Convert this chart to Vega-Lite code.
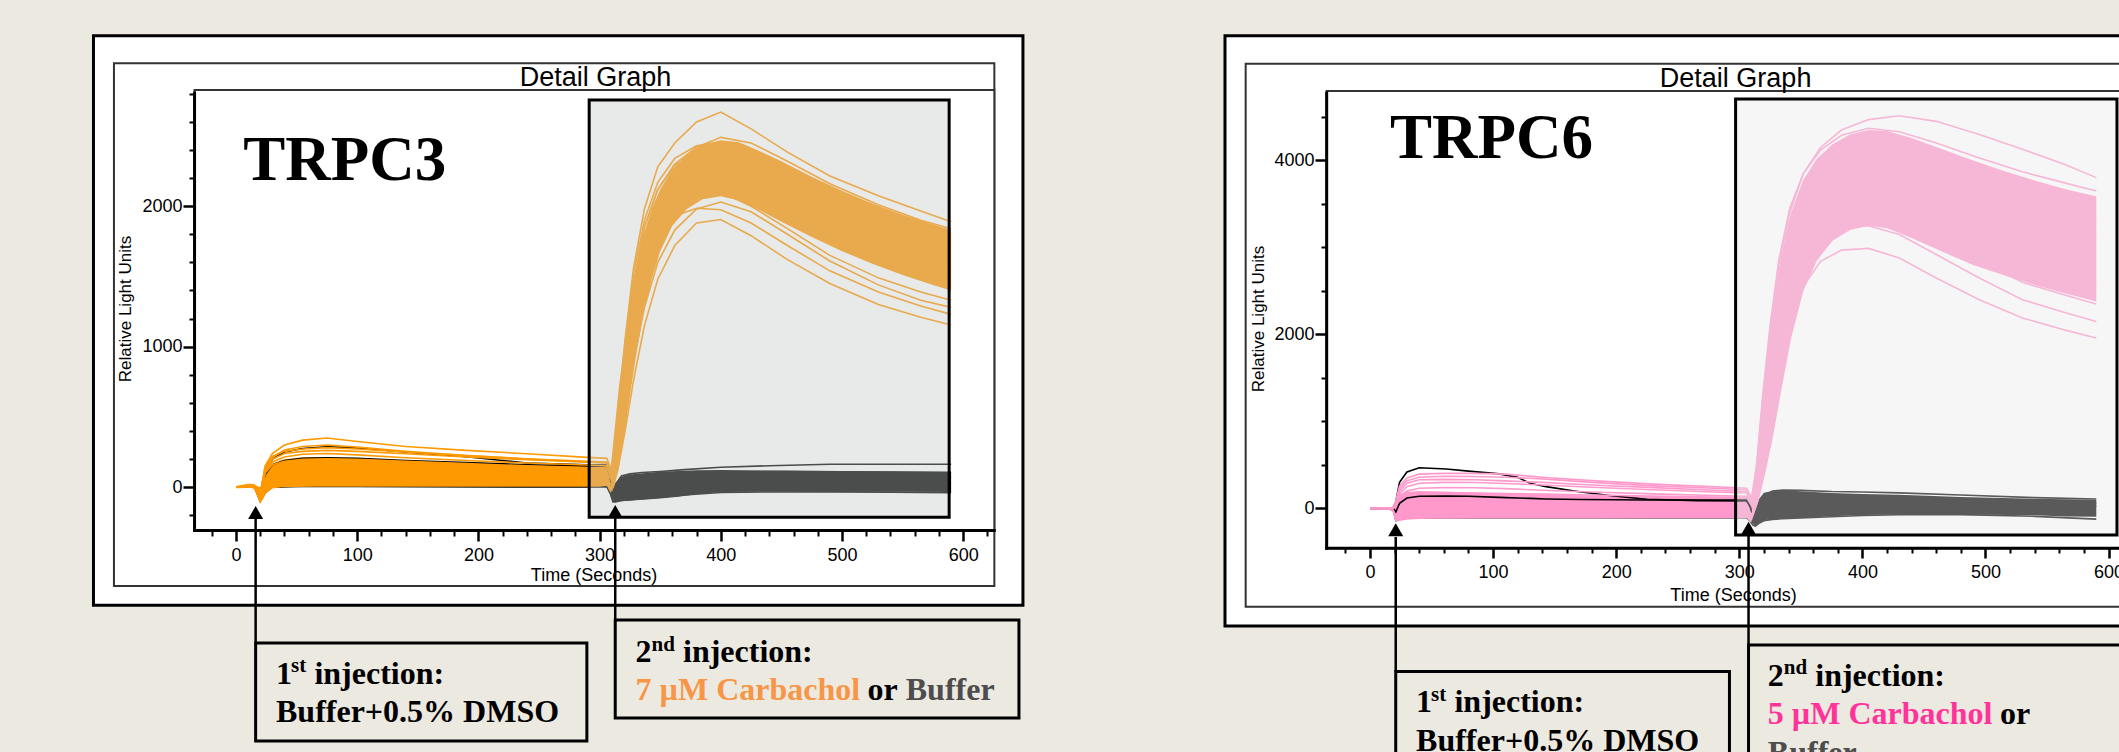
{
"$schema":"https://vega.github.io/schema/vega-lite/v6.json",
"width":2119,"height":752,
"autosize":{"type":"none"},
"padding":0,
"background":"#ECE9E1",
"config":{"view":{"stroke":null},"axis":{"grid":false,"format":"d"}},
"datasets":{
"aR":[
{"id":"outer","t1":-117.6,"t2":649.3,"v1":-840.6,"v2":3213.5},
{"id":"frame","t1":-100.7,"t2":625.7,"v1":-703.9,"v2":3017},
{"id":"frame","t1":-34.2,"t2":625.7,"v1":-308.2,"v2":2827},
{"id":"hl","t1":291.4,"t2":588.4,"v1":-214.2,"v2":2755.9},
{"id":"box","t1":16.2,"t2":289.5,"v1":-1806.4,"v2":-1108.9},
{"id":"box","t1":312.9,"t2":646.0,"v1":-1642.7,"v2":-945.2}
],
"aAx":[{"t1":-34.2,"t2":625.7,"v":-308.2}],
"aAy":[{"t":-34.2,"v1":-308.2,"v2":2805}],
"aArr":[{"t":16.2,"vc":-180.1,"vt":-226.3,"vb":-1108.9},{"t":312.9,"vc":-173,"vt":-219.2,"vb":-945.2}],
"aT":[
{"k":"big","t":6.0,"v":2186.5,"s":"TRPC3"},
{"k":"dg","t":296.6,"v":2855.5,"s":"Detail Graph"},
{"k":"yt","t":-86.6,"v":1268.3,"s":"Relative Light Units"},
{"k":"xt","t":295.4,"v":-667.6,"s":"Time (Seconds)"},
{"k":"bx","t":33.0,"v":-1397.2,"s":"1"},
{"k":"sup","t":45.4,"v":-1315.3,"s":"st"},
{"k":"bx","t":64.7,"v":-1397.2,"s":"injection:"},
{"k":"bx","t":33.0,"v":-1669.8,"s":"Buffer+0.5% DMSO"},
{"k":"bx","t":329.7,"v":-1244.1,"s":"2"},
{"k":"sup","t":342.9,"v":-1162.3,"s":"nd"},
{"k":"bx","t":368.8,"v":-1244.1,"s":"injection:"},
{"k":"cc","t":329.7,"v":-1514.6,"s":"7 µM Carbachol"},
{"k":"bx","t":521.1,"v":-1514.6,"s":"or"},
{"k":"cg","t":552.6,"v":-1514.6,"s":"Buffer"}
],
"aKA":[
{"t":308,"lo":-20,"hi":120},{"t":311,"lo":-105,"hi":-10},{"t":313,"lo":-110,"hi":30},{"t":318,"lo":-100,"hi":75},{"t":325,"lo":-95,"hi":90},{"t":336,"lo":-90,"hi":100},{"t":350,"lo":-80,"hi":110},{"t":365,"lo":-68,"hi":116},{"t":380,"lo":-50,"hi":120},{"t":400,"lo":-34,"hi":122},{"t":450,"lo":-32,"hi":118},{"t":500,"lo":-32,"hi":115},{"t":550,"lo":-32,"hi":112},{"t":590,"lo":-34,"hi":110}
],
"aOA":[
{"t":0,"lo":-8,"hi":8},{"t":10,"lo":-5,"hi":25},{"t":14,"lo":-8,"hi":22},{"t":17,"lo":-40,"hi":10},{"t":20,"lo":-100,"hi":0},{"t":22,"lo":-90,"hi":40},{"t":25,"lo":-40,"hi":110},{"t":30,"lo":-10,"hi":165},{"t":38,"lo":0,"hi":195},{"t":50,"lo":2,"hi":210},{"t":65,"lo":4,"hi":215},{"t":80,"lo":4,"hi":212},{"t":100,"lo":4,"hi":205},{"t":130,"lo":4,"hi":195},{"t":160,"lo":4,"hi":185},{"t":200,"lo":4,"hi":172},{"t":240,"lo":4,"hi":160},{"t":280,"lo":4,"hi":150},{"t":300,"lo":4,"hi":145},{"t":306,"lo":10,"hi":150},{"t":309,"lo":-40,"hi":130},{"t":312,"lo":0,"hi":380},{"t":316,"lo":150,"hi":720},{"t":320,"lo":350,"hi":980},{"t":325,"lo":650,"hi":1280},{"t":330,"lo":930,"hi":1530},{"t":336,"lo":1230,"hi":1780},{"t":343,"lo":1480,"hi":1980},{"t":350,"lo":1680,"hi":2120},{"t":360,"lo":1860,"hi":2260},{"t":372,"lo":1980,"hi":2370},{"t":385,"lo":2050,"hi":2440},{"t":400,"lo":2070,"hi":2470},{"t":415,"lo":2040,"hi":2455},{"t":430,"lo":1980,"hi":2400},{"t":450,"lo":1890,"hi":2320},{"t":475,"lo":1780,"hi":2210},{"t":500,"lo":1680,"hi":2110},{"t":525,"lo":1590,"hi":2020},{"t":550,"lo":1510,"hi":1940},{"t":575,"lo":1440,"hi":1870},{"t":590,"lo":1400,"hi":1830}
],
"aO":[
{"s":"O1","t":0,"v":0},{"s":"O1","t":15,"v":15},{"s":"O1","t":20,"v":-60},{"s":"O1","t":24,"v":150},{"s":"O1","t":30,"v":240},{"s":"O1","t":40,"v":300},{"s":"O1","t":55,"v":335},{"s":"O1","t":75,"v":350},{"s":"O1","t":100,"v":325},{"s":"O1","t":140,"v":290},{"s":"O1","t":190,"v":262},{"s":"O1","t":240,"v":238},{"s":"O1","t":290,"v":212},{"s":"O1","t":306,"v":205},{"s":"O1","t":310,"v":120},{"s":"O1","t":315,"v":520},{"s":"O1","t":321,"v":1050},{"s":"O1","t":328,"v":1560},{"s":"O1","t":337,"v":1980},{"s":"O1","t":348,"v":2280},{"s":"O1","t":362,"v":2450},{"s":"O1","t":380,"v":2600},{"s":"O1","t":400,"v":2670},{"s":"O1","t":425,"v":2550},{"s":"O1","t":455,"v":2385},{"s":"O1","t":490,"v":2215},{"s":"O1","t":530,"v":2075},{"s":"O1","t":565,"v":1965},{"s":"O1","t":590,"v":1890},
{"s":"O2","t":0,"v":0},{"s":"O2","t":15,"v":12},{"s":"O2","t":20,"v":-50},{"s":"O2","t":24,"v":130},{"s":"O2","t":30,"v":215},{"s":"O2","t":40,"v":265},{"s":"O2","t":55,"v":290},{"s":"O2","t":75,"v":300},{"s":"O2","t":100,"v":285},{"s":"O2","t":140,"v":255},{"s":"O2","t":190,"v":225},{"s":"O2","t":240,"v":200},{"s":"O2","t":290,"v":178},{"s":"O2","t":306,"v":172},{"s":"O2","t":310,"v":90},{"s":"O2","t":315,"v":480},{"s":"O2","t":321,"v":980},{"s":"O2","t":328,"v":1450},{"s":"O2","t":337,"v":1850},{"s":"O2","t":348,"v":2120},{"s":"O2","t":362,"v":2300},{"s":"O2","t":380,"v":2420},{"s":"O2","t":400,"v":2490},{"s":"O2","t":425,"v":2450},{"s":"O2","t":455,"v":2320},{"s":"O2","t":490,"v":2160},{"s":"O2","t":530,"v":2010},{"s":"O2","t":565,"v":1900},{"s":"O2","t":590,"v":1840},
{"s":"O3","t":0,"v":0},{"s":"O3","t":15,"v":10},{"s":"O3","t":20,"v":-105},{"s":"O3","t":24,"v":-40},{"s":"O3","t":30,"v":10},{"s":"O3","t":40,"v":25},{"s":"O3","t":55,"v":30},{"s":"O3","t":75,"v":30},{"s":"O3","t":100,"v":28},{"s":"O3","t":140,"v":25},{"s":"O3","t":190,"v":22},{"s":"O3","t":240,"v":20},{"s":"O3","t":290,"v":18},{"s":"O3","t":306,"v":20},{"s":"O3","t":310,"v":-20},{"s":"O3","t":315,"v":120},{"s":"O3","t":321,"v":400},{"s":"O3","t":328,"v":760},{"s":"O3","t":337,"v":1150},{"s":"O3","t":348,"v":1480},{"s":"O3","t":362,"v":1720},{"s":"O3","t":380,"v":1880},{"s":"O3","t":400,"v":1905},{"s":"O3","t":425,"v":1790},{"s":"O3","t":455,"v":1620},{"s":"O3","t":490,"v":1450},{"s":"O3","t":530,"v":1300},{"s":"O3","t":565,"v":1210},{"s":"O3","t":590,"v":1155},
{"s":"O4","t":0,"v":0},{"s":"O4","t":15,"v":15},{"s":"O4","t":20,"v":-70},{"s":"O4","t":24,"v":110},{"s":"O4","t":30,"v":180},{"s":"O4","t":40,"v":215},{"s":"O4","t":55,"v":235},{"s":"O4","t":75,"v":240},{"s":"O4","t":100,"v":230},{"s":"O4","t":140,"v":210},{"s":"O4","t":190,"v":190},{"s":"O4","t":240,"v":172},{"s":"O4","t":290,"v":158},{"s":"O4","t":306,"v":152},{"s":"O4","t":310,"v":70},{"s":"O4","t":315,"v":350},{"s":"O4","t":321,"v":800},{"s":"O4","t":328,"v":1250},{"s":"O4","t":337,"v":1600},{"s":"O4","t":348,"v":1820},{"s":"O4","t":362,"v":1930},{"s":"O4","t":380,"v":1985},{"s":"O4","t":400,"v":1975},{"s":"O4","t":425,"v":1880},{"s":"O4","t":455,"v":1720},{"s":"O4","t":490,"v":1540},{"s":"O4","t":530,"v":1390},{"s":"O4","t":565,"v":1290},{"s":"O4","t":590,"v":1230},
{"s":"O5","t":0,"v":0},{"s":"O5","t":15,"v":12},{"s":"O5","t":20,"v":-40},{"s":"O5","t":24,"v":140},{"s":"O5","t":30,"v":220},{"s":"O5","t":40,"v":255},{"s":"O5","t":55,"v":272},{"s":"O5","t":75,"v":282},{"s":"O5","t":100,"v":272},{"s":"O5","t":140,"v":250},{"s":"O5","t":190,"v":225},{"s":"O5","t":240,"v":202},{"s":"O5","t":290,"v":185},{"s":"O5","t":306,"v":180},{"s":"O5","t":310,"v":100},{"s":"O5","t":315,"v":420},{"s":"O5","t":321,"v":900},{"s":"O5","t":328,"v":1380},{"s":"O5","t":337,"v":1740},{"s":"O5","t":348,"v":1960},{"s":"O5","t":362,"v":2070},{"s":"O5","t":380,"v":2120},{"s":"O5","t":400,"v":2100},{"s":"O5","t":425,"v":2000},{"s":"O5","t":455,"v":1840},{"s":"O5","t":490,"v":1650},{"s":"O5","t":530,"v":1490},{"s":"O5","t":565,"v":1390},{"s":"O5","t":590,"v":1330},
{"s":"O6","t":0,"v":0},{"s":"O6","t":15,"v":10},{"s":"O6","t":20,"v":-55},{"s":"O6","t":24,"v":120},{"s":"O6","t":30,"v":200},{"s":"O6","t":40,"v":240},{"s":"O6","t":55,"v":255},{"s":"O6","t":75,"v":262},{"s":"O6","t":100,"v":255},{"s":"O6","t":140,"v":238},{"s":"O6","t":190,"v":215},{"s":"O6","t":240,"v":195},{"s":"O6","t":290,"v":180},{"s":"O6","t":306,"v":175},{"s":"O6","t":310,"v":90},{"s":"O6","t":315,"v":450},{"s":"O6","t":321,"v":950},{"s":"O6","t":328,"v":1420},{"s":"O6","t":337,"v":1800},{"s":"O6","t":348,"v":2060},{"s":"O6","t":362,"v":2220},{"s":"O6","t":380,"v":2290},{"s":"O6","t":400,"v":2300},{"s":"O6","t":425,"v":2220},{"s":"O6","t":455,"v":2060},{"s":"O6","t":490,"v":1880},{"s":"O6","t":530,"v":1730},{"s":"O6","t":565,"v":1620},{"s":"O6","t":590,"v":1560},
{"s":"O7","t":0,"v":0},{"s":"O7","t":15,"v":10},{"s":"O7","t":20,"v":-80},{"s":"O7","t":24,"v":60},{"s":"O7","t":30,"v":110},{"s":"O7","t":40,"v":135},{"s":"O7","t":55,"v":148},{"s":"O7","t":75,"v":152},{"s":"O7","t":100,"v":148},{"s":"O7","t":140,"v":140},{"s":"O7","t":190,"v":128},{"s":"O7","t":240,"v":118},{"s":"O7","t":290,"v":110},{"s":"O7","t":306,"v":108},{"s":"O7","t":310,"v":40},{"s":"O7","t":315,"v":400},{"s":"O7","t":321,"v":930},{"s":"O7","t":328,"v":1450},{"s":"O7","t":337,"v":1850},{"s":"O7","t":348,"v":2120},{"s":"O7","t":362,"v":2290},{"s":"O7","t":380,"v":2380},{"s":"O7","t":400,"v":2400},{"s":"O7","t":425,"v":2340},{"s":"O7","t":455,"v":2210},{"s":"O7","t":490,"v":2040},{"s":"O7","t":530,"v":1880},{"s":"O7","t":565,"v":1760},{"s":"O7","t":590,"v":1700},
{"s":"O8","t":0,"v":0},{"s":"O8","t":15,"v":8},{"s":"O8","t":20,"v":-90},{"s":"O8","t":24,"v":20},{"s":"O8","t":30,"v":60},{"s":"O8","t":40,"v":80},{"s":"O8","t":55,"v":88},{"s":"O8","t":75,"v":92},{"s":"O8","t":100,"v":90},{"s":"O8","t":140,"v":85},{"s":"O8","t":190,"v":80},{"s":"O8","t":240,"v":75},{"s":"O8","t":290,"v":70},{"s":"O8","t":306,"v":70},{"s":"O8","t":310,"v":10},{"s":"O8","t":315,"v":250},{"s":"O8","t":321,"v":700},{"s":"O8","t":328,"v":1150},{"s":"O8","t":337,"v":1580},{"s":"O8","t":348,"v":1880},{"s":"O8","t":362,"v":2070},{"s":"O8","t":380,"v":2180},{"s":"O8","t":400,"v":2200},{"s":"O8","t":425,"v":2120},{"s":"O8","t":455,"v":1950},{"s":"O8","t":490,"v":1760},{"s":"O8","t":530,"v":1600},{"s":"O8","t":565,"v":1500},{"s":"O8","t":590,"v":1450},
{"s":"O9","t":0,"v":0},{"s":"O9","t":15,"v":12},{"s":"O9","t":20,"v":-60},{"s":"O9","t":24,"v":100},{"s":"O9","t":30,"v":160},{"s":"O9","t":40,"v":185},{"s":"O9","t":55,"v":198},{"s":"O9","t":75,"v":202},{"s":"O9","t":100,"v":198},{"s":"O9","t":140,"v":185},{"s":"O9","t":190,"v":168},{"s":"O9","t":240,"v":152},{"s":"O9","t":290,"v":140},{"s":"O9","t":306,"v":136},{"s":"O9","t":310,"v":60},{"s":"O9","t":315,"v":500},{"s":"O9","t":321,"v":1020},{"s":"O9","t":328,"v":1520},{"s":"O9","t":337,"v":1900},{"s":"O9","t":348,"v":2170},{"s":"O9","t":362,"v":2340},{"s":"O9","t":380,"v":2430},{"s":"O9","t":400,"v":2455},{"s":"O9","t":425,"v":2400},{"s":"O9","t":455,"v":2270},{"s":"O9","t":490,"v":2100},{"s":"O9","t":530,"v":1950},{"s":"O9","t":565,"v":1830},{"s":"O9","t":590,"v":1780},
{"s":"O10","t":0,"v":0},{"s":"O10","t":15,"v":8},{"s":"O10","t":20,"v":-95},{"s":"O10","t":24,"v":-10},{"s":"O10","t":30,"v":30},{"s":"O10","t":40,"v":45},{"s":"O10","t":55,"v":52},{"s":"O10","t":75,"v":55},{"s":"O10","t":100,"v":52},{"s":"O10","t":140,"v":48},{"s":"O10","t":190,"v":44},{"s":"O10","t":240,"v":40},{"s":"O10","t":290,"v":38},{"s":"O10","t":306,"v":38},{"s":"O10","t":310,"v":-10},{"s":"O10","t":315,"v":180},{"s":"O10","t":321,"v":520},{"s":"O10","t":328,"v":900},{"s":"O10","t":337,"v":1280},{"s":"O10","t":348,"v":1600},{"s":"O10","t":362,"v":1830},{"s":"O10","t":380,"v":1980},{"s":"O10","t":400,"v":2030},{"s":"O10","t":425,"v":1960},{"s":"O10","t":455,"v":1800},{"s":"O10","t":490,"v":1610},{"s":"O10","t":530,"v":1440},{"s":"O10","t":565,"v":1330},{"s":"O10","t":590,"v":1280}
],
"aK":[
{"s":"K3","t":0,"v":0},{"s":"K3","t":15,"v":5},{"s":"K3","t":20,"v":-100},{"s":"K3","t":24,"v":-40},{"s":"K3","t":30,"v":0},{"s":"K3","t":40,"v":5},{"s":"K3","t":55,"v":8},{"s":"K3","t":75,"v":8},{"s":"K3","t":100,"v":8},{"s":"K3","t":140,"v":6},{"s":"K3","t":190,"v":5},{"s":"K3","t":240,"v":4},{"s":"K3","t":290,"v":3},{"s":"K3","t":306,"v":3},{"s":"K3","t":309,"v":-50},{"s":"K3","t":311,"v":-105},{"s":"K3","t":314,"v":-100},{"s":"K3","t":318,"v":-95},{"s":"K3","t":325,"v":-90},{"s":"K3","t":335,"v":-82},{"s":"K3","t":350,"v":-72},{"s":"K3","t":370,"v":-55},{"s":"K3","t":400,"v":-38},{"s":"K3","t":440,"v":-34},{"s":"K3","t":490,"v":-33},{"s":"K3","t":540,"v":-35},{"s":"K3","t":590,"v":-40},
{"s":"K4","t":0,"v":0},{"s":"K4","t":15,"v":5},{"s":"K4","t":20,"v":-85},{"s":"K4","t":24,"v":-20},{"s":"K4","t":30,"v":2},{"s":"K4","t":40,"v":4},{"s":"K4","t":55,"v":5},{"s":"K4","t":75,"v":5},{"s":"K4","t":100,"v":5},{"s":"K4","t":140,"v":5},{"s":"K4","t":190,"v":4},{"s":"K4","t":240,"v":4},{"s":"K4","t":290,"v":3},{"s":"K4","t":306,"v":3},{"s":"K4","t":309,"v":20},{"s":"K4","t":311,"v":-80},{"s":"K4","t":314,"v":-50},{"s":"K4","t":318,"v":-20},{"s":"K4","t":325,"v":0},{"s":"K4","t":335,"v":15},{"s":"K4","t":350,"v":25},{"s":"K4","t":370,"v":32},{"s":"K4","t":400,"v":36},{"s":"K4","t":440,"v":38},{"s":"K4","t":490,"v":36},{"s":"K4","t":540,"v":34},{"s":"K4","t":590,"v":30},
{"s":"K5","t":0,"v":0},{"s":"K5","t":15,"v":5},{"s":"K5","t":20,"v":-80},{"s":"K5","t":24,"v":40},{"s":"K5","t":30,"v":80},{"s":"K5","t":40,"v":100},{"s":"K5","t":55,"v":110},{"s":"K5","t":75,"v":112},{"s":"K5","t":100,"v":110},{"s":"K5","t":140,"v":105},{"s":"K5","t":190,"v":98},{"s":"K5","t":240,"v":92},{"s":"K5","t":290,"v":88},{"s":"K5","t":306,"v":86},{"s":"K5","t":309,"v":30},{"s":"K5","t":311,"v":-90},{"s":"K5","t":314,"v":-40},{"s":"K5","t":318,"v":10},{"s":"K5","t":325,"v":40},{"s":"K5","t":335,"v":55},{"s":"K5","t":350,"v":65},{"s":"K5","t":370,"v":72},{"s":"K5","t":400,"v":78},{"s":"K5","t":440,"v":80},{"s":"K5","t":490,"v":78},{"s":"K5","t":540,"v":76},{"s":"K5","t":590,"v":74}
],
"aKt":[
{"s":"K1","t":0,"v":0},{"s":"K1","t":15,"v":10},{"s":"K1","t":20,"v":-50},{"s":"K1","t":24,"v":120},{"s":"K1","t":30,"v":200},{"s":"K1","t":40,"v":250},{"s":"K1","t":55,"v":275},{"s":"K1","t":75,"v":288},{"s":"K1","t":100,"v":280},{"s":"K1","t":140,"v":250},{"s":"K1","t":190,"v":217},{"s":"K1","t":240,"v":172},{"s":"K1","t":290,"v":160},{"s":"K1","t":306,"v":158},{"s":"K1","t":309,"v":60},{"s":"K1","t":311,"v":-40},{"s":"K1","t":314,"v":30},{"s":"K1","t":318,"v":80},{"s":"K1","t":325,"v":95},{"s":"K1","t":335,"v":105},{"s":"K1","t":350,"v":112},{"s":"K1","t":370,"v":125},{"s":"K1","t":400,"v":142},{"s":"K1","t":440,"v":153},{"s":"K1","t":490,"v":163},{"s":"K1","t":540,"v":163},{"s":"K1","t":590,"v":163},
{"s":"K2","t":0,"v":0},{"s":"K2","t":15,"v":10},{"s":"K2","t":20,"v":-60},{"s":"K2","t":24,"v":90},{"s":"K2","t":30,"v":160},{"s":"K2","t":40,"v":190},{"s":"K2","t":55,"v":205},{"s":"K2","t":75,"v":210},{"s":"K2","t":100,"v":205},{"s":"K2","t":140,"v":190},{"s":"K2","t":190,"v":175},{"s":"K2","t":240,"v":160},{"s":"K2","t":290,"v":150},{"s":"K2","t":306,"v":148},{"s":"K2","t":309,"v":50},{"s":"K2","t":311,"v":-60},{"s":"K2","t":314,"v":-10},{"s":"K2","t":318,"v":40},{"s":"K2","t":325,"v":70},{"s":"K2","t":335,"v":85},{"s":"K2","t":350,"v":95},{"s":"K2","t":370,"v":105},{"s":"K2","t":400,"v":110},{"s":"K2","t":440,"v":112},{"s":"K2","t":490,"v":110},{"s":"K2","t":540,"v":108},{"s":"K2","t":590,"v":105}
],
"bR":[
{"id":"outer","t1":-117.8,"t2":700,"v1":-1350.6,"v2":5434.5},
{"id":"frame","t1":-101,"t2":700,"v1":-1128.7,"v2":5111.5},
{"id":"frame","t1":-35.2,"t2":700,"v1":-457.5,"v2":4797.7},
{"id":"hl","t1":297,"t2":606.8,"v1":-304.6,"v2":4707},
{"id":"box","t1":20.9,"t2":292,"v1":-3350,"v2":-1873.6},
{"id":"box","t1":307.5,"t2":700,"v1":-3350,"v2":-1569}
],
"bAx":[{"t1":-35.2,"t2":700,"v":-457.5}],
"bAy":[{"t":-35.2,"v1":-457.5,"v2":4775}],
"bArr":[{"t":20.9,"vc":-244.8,"vt":-327.6,"vb":-1873.6},{"t":307.5,"vc":-226.4,"vt":-304.6,"vb":-1569}],
"bT":[
{"k":"big","t":16.2,"v":4025,"s":"TRPC6"},
{"k":"dg","t":297,"v":4844.8,"s":"Detail Graph"},
{"k":"yt","t":-86.2,"v":2178,"s":"Relative Light Units"},
{"k":"xt","t":295.3,"v":-1063.2,"s":"Time (Seconds)"},
{"k":"bx","t":37.4,"v":-2341.4,"s":"1"},
{"k":"sup","t":49.6,"v":-2209.2,"s":"st"},
{"k":"bx","t":68.6,"v":-2341.4,"s":"injection:"},
{"k":"bx","t":37.4,"v":-2782.8,"s":"Buffer+0.5% DMSO"},
{"k":"bx","t":323.2,"v":-2037.9,"s":"2"},
{"k":"sup","t":336.2,"v":-1905.7,"s":"nd"},
{"k":"bx","t":361.7,"v":-2037.9,"s":"injection:"},
{"k":"cc","t":323.2,"v":-2479.3,"s":"5 µM Carbachol"},
{"k":"bx","t":511.8,"v":-2479.3,"s":"or"},
{"k":"cg","t":323.2,"v":-2920.7,"s":"Buffer"}
],
"bKA":[
{"t":308,"lo":-100,"hi":100},{"t":311,"lo":-170,"hi":0},{"t":313,"lo":-200,"hi":-20},{"t":316,"lo":-170,"hi":110},{"t":320,"lo":-135,"hi":180},{"t":327,"lo":-122,"hi":200},{"t":335,"lo":-115,"hi":205},{"t":346,"lo":-112,"hi":200},{"t":375,"lo":-90,"hi":178},{"t":400,"lo":-75,"hi":168},{"t":430,"lo":-70,"hi":158},{"t":480,"lo":-68,"hi":132},{"t":540,"lo":-78,"hi":112},{"t":565,"lo":-92,"hi":106},{"t":590,"lo":-94,"hi":100}
],
"bPA":[
{"t":0,"lo":-12,"hi":12},{"t":15,"lo":-12,"hi":15},{"t":18,"lo":-30,"hi":20},{"t":20,"lo":-110,"hi":40},{"t":22,"lo":-150,"hi":120},{"t":25,"lo":-140,"hi":170},{"t":30,"lo":-128,"hi":190},{"t":40,"lo":-122,"hi":200},{"t":60,"lo":-118,"hi":195},{"t":90,"lo":-115,"hi":180},{"t":130,"lo":-115,"hi":165},{"t":180,"lo":-115,"hi":150},{"t":230,"lo":-113,"hi":138},{"t":280,"lo":-112,"hi":128},{"t":300,"lo":-112,"hi":125},{"t":306,"lo":-110,"hi":120},{"t":309,"lo":-160,"hi":100},{"t":312,"lo":-60,"hi":300},{"t":316,"lo":100,"hi":850},{"t":321,"lo":400,"hi":1550},{"t":327,"lo":800,"hi":2250},{"t":334,"lo":1350,"hi":2900},{"t":342,"lo":1950,"hi":3400},{"t":352,"lo":2500,"hi":3780},{"t":363,"lo":2850,"hi":4020},{"t":376,"lo":3080,"hi":4190},{"t":390,"lo":3200,"hi":4300},{"t":405,"lo":3250,"hi":4350},{"t":420,"lo":3220,"hi":4340},{"t":440,"lo":3110,"hi":4260},{"t":465,"lo":2950,"hi":4130},{"t":490,"lo":2800,"hi":4000},{"t":515,"lo":2680,"hi":3880},{"t":540,"lo":2570,"hi":3770},{"t":565,"lo":2470,"hi":3670},{"t":590,"lo":2380,"hi":3590}
],
"bP":[
{"s":"P1","t":0,"v":0},{"s":"P1","t":15,"v":5},{"s":"P1","t":19,"v":10},{"s":"P1","t":21,"v":90},{"s":"P1","t":24,"v":260},{"s":"P1","t":30,"v":350},{"s":"P1","t":40,"v":395},{"s":"P1","t":60,"v":404},{"s":"P1","t":85,"v":404},{"s":"P1","t":110,"v":395},{"s":"P1","t":140,"v":360},{"s":"P1","t":180,"v":320},{"s":"P1","t":230,"v":280},{"s":"P1","t":280,"v":250},{"s":"P1","t":306,"v":232},{"s":"P1","t":310,"v":120},{"s":"P1","t":314,"v":500},{"s":"P1","t":319,"v":1300},{"s":"P1","t":325,"v":2100},{"s":"P1","t":332,"v":2850},{"s":"P1","t":341,"v":3450},{"s":"P1","t":352,"v":3850},{"s":"P1","t":366,"v":4120},{"s":"P1","t":383,"v":4290},{"s":"P1","t":405,"v":4370},{"s":"P1","t":430,"v":4330},{"s":"P1","t":460,"v":4200},{"s":"P1","t":495,"v":4030},{"s":"P1","t":530,"v":3870},{"s":"P1","t":565,"v":3740},{"s":"P1","t":590,"v":3650},
{"s":"P2","t":0,"v":0},{"s":"P2","t":15,"v":5},{"s":"P2","t":19,"v":8},{"s":"P2","t":21,"v":70},{"s":"P2","t":24,"v":230},{"s":"P2","t":30,"v":320},{"s":"P2","t":40,"v":360},{"s":"P2","t":60,"v":370},{"s":"P2","t":85,"v":368},{"s":"P2","t":110,"v":360},{"s":"P2","t":140,"v":340},{"s":"P2","t":180,"v":300},{"s":"P2","t":230,"v":260},{"s":"P2","t":280,"v":232},{"s":"P2","t":306,"v":216},{"s":"P2","t":310,"v":110},{"s":"P2","t":314,"v":450},{"s":"P2","t":319,"v":1250},{"s":"P2","t":325,"v":2050},{"s":"P2","t":332,"v":2800},{"s":"P2","t":341,"v":3400},{"s":"P2","t":352,"v":3850},{"s":"P2","t":366,"v":4150},{"s":"P2","t":383,"v":4350},{"s":"P2","t":405,"v":4470},{"s":"P2","t":430,"v":4515},{"s":"P2","t":460,"v":4450},{"s":"P2","t":495,"v":4300},{"s":"P2","t":530,"v":4130},{"s":"P2","t":565,"v":3950},{"s":"P2","t":590,"v":3803},
{"s":"P3","t":0,"v":0},{"s":"P3","t":15,"v":5},{"s":"P3","t":19,"v":8},{"s":"P3","t":21,"v":60},{"s":"P3","t":24,"v":200},{"s":"P3","t":30,"v":290},{"s":"P3","t":40,"v":330},{"s":"P3","t":60,"v":335},{"s":"P3","t":85,"v":330},{"s":"P3","t":110,"v":318},{"s":"P3","t":140,"v":300},{"s":"P3","t":180,"v":270},{"s":"P3","t":230,"v":240},{"s":"P3","t":280,"v":210},{"s":"P3","t":306,"v":195},{"s":"P3","t":310,"v":80},{"s":"P3","t":314,"v":250},{"s":"P3","t":319,"v":650},{"s":"P3","t":325,"v":1150},{"s":"P3","t":332,"v":1650},{"s":"P3","t":341,"v":2150},{"s":"P3","t":352,"v":2550},{"s":"P3","t":366,"v":2840},{"s":"P3","t":383,"v":2970},{"s":"P3","t":405,"v":2990},{"s":"P3","t":430,"v":2880},{"s":"P3","t":460,"v":2650},{"s":"P3","t":495,"v":2400},{"s":"P3","t":530,"v":2190},{"s":"P3","t":565,"v":2050},{"s":"P3","t":590,"v":1960},
{"s":"P4","t":0,"v":0},{"s":"P4","t":15,"v":5},{"s":"P4","t":19,"v":8},{"s":"P4","t":21,"v":50},{"s":"P4","t":24,"v":170},{"s":"P4","t":30,"v":250},{"s":"P4","t":40,"v":290},{"s":"P4","t":60,"v":300},{"s":"P4","t":85,"v":298},{"s":"P4","t":110,"v":288},{"s":"P4","t":140,"v":270},{"s":"P4","t":180,"v":245},{"s":"P4","t":230,"v":215},{"s":"P4","t":280,"v":190},{"s":"P4","t":306,"v":178},{"s":"P4","t":310,"v":70},{"s":"P4","t":314,"v":300},{"s":"P4","t":319,"v":800},{"s":"P4","t":325,"v":1400},{"s":"P4","t":332,"v":1950},{"s":"P4","t":341,"v":2450},{"s":"P4","t":352,"v":2850},{"s":"P4","t":366,"v":3100},{"s":"P4","t":383,"v":3230},{"s":"P4","t":405,"v":3250},{"s":"P4","t":430,"v":3150},{"s":"P4","t":460,"v":2920},{"s":"P4","t":495,"v":2650},{"s":"P4","t":530,"v":2400},{"s":"P4","t":565,"v":2250},{"s":"P4","t":590,"v":2150},
{"s":"P5","t":0,"v":0},{"s":"P5","t":15,"v":5},{"s":"P5","t":19,"v":6},{"s":"P5","t":21,"v":40},{"s":"P5","t":24,"v":140},{"s":"P5","t":30,"v":200},{"s":"P5","t":40,"v":232},{"s":"P5","t":60,"v":240},{"s":"P5","t":85,"v":238},{"s":"P5","t":110,"v":228},{"s":"P5","t":140,"v":210},{"s":"P5","t":180,"v":190},{"s":"P5","t":230,"v":168},{"s":"P5","t":280,"v":150},{"s":"P5","t":306,"v":140},{"s":"P5","t":310,"v":60},{"s":"P5","t":314,"v":400},{"s":"P5","t":319,"v":1150},{"s":"P5","t":325,"v":1950},{"s":"P5","t":332,"v":2700},{"s":"P5","t":341,"v":3300},{"s":"P5","t":352,"v":3750},{"s":"P5","t":366,"v":4020},{"s":"P5","t":383,"v":4180},{"s":"P5","t":405,"v":4250},{"s":"P5","t":430,"v":4180},{"s":"P5","t":460,"v":3980},{"s":"P5","t":495,"v":3750},{"s":"P5","t":530,"v":3560},{"s":"P5","t":565,"v":3430},{"s":"P5","t":590,"v":3350},
{"s":"P6","t":0,"v":0},{"s":"P6","t":15,"v":5},{"s":"P6","t":19,"v":-20},{"s":"P6","t":21,"v":-120},{"s":"P6","t":24,"v":-50},{"s":"P6","t":30,"v":30},{"s":"P6","t":40,"v":55},{"s":"P6","t":60,"v":60},{"s":"P6","t":85,"v":60},{"s":"P6","t":110,"v":58},{"s":"P6","t":140,"v":55},{"s":"P6","t":180,"v":52},{"s":"P6","t":230,"v":50},{"s":"P6","t":280,"v":48},{"s":"P6","t":306,"v":45},{"s":"P6","t":310,"v":-80},{"s":"P6","t":314,"v":100},{"s":"P6","t":319,"v":500},{"s":"P6","t":325,"v":1000},{"s":"P6","t":332,"v":1600},{"s":"P6","t":341,"v":2200},{"s":"P6","t":352,"v":2750},{"s":"P6","t":366,"v":3150},{"s":"P6","t":383,"v":3400},{"s":"P6","t":405,"v":3500},{"s":"P6","t":430,"v":3420},{"s":"P6","t":460,"v":3150},{"s":"P6","t":495,"v":2850},{"s":"P6","t":530,"v":2600},{"s":"P6","t":565,"v":2450},{"s":"P6","t":590,"v":2350},
{"s":"P7","t":0,"v":0},{"s":"P7","t":15,"v":-5},{"s":"P7","t":19,"v":-30},{"s":"P7","t":21,"v":-140},{"s":"P7","t":24,"v":-90},{"s":"P7","t":30,"v":-40},{"s":"P7","t":40,"v":-20},{"s":"P7","t":60,"v":-10},{"s":"P7","t":85,"v":-10},{"s":"P7","t":110,"v":-10},{"s":"P7","t":140,"v":-12},{"s":"P7","t":180,"v":-12},{"s":"P7","t":230,"v":-15},{"s":"P7","t":280,"v":-15},{"s":"P7","t":306,"v":-15},{"s":"P7","t":310,"v":-120},{"s":"P7","t":314,"v":50},{"s":"P7","t":319,"v":450},{"s":"P7","t":325,"v":1100},{"s":"P7","t":332,"v":1800},{"s":"P7","t":341,"v":2500},{"s":"P7","t":352,"v":3050},{"s":"P7","t":366,"v":3450},{"s":"P7","t":383,"v":3700},{"s":"P7","t":405,"v":3800},{"s":"P7","t":430,"v":3720},{"s":"P7","t":460,"v":3450},{"s":"P7","t":495,"v":3150},{"s":"P7","t":530,"v":2880},{"s":"P7","t":565,"v":2700},{"s":"P7","t":590,"v":2600},
{"s":"P8","t":0,"v":0},{"s":"P8","t":15,"v":5},{"s":"P8","t":19,"v":5},{"s":"P8","t":21,"v":30},{"s":"P8","t":24,"v":100},{"s":"P8","t":30,"v":150},{"s":"P8","t":40,"v":175},{"s":"P8","t":60,"v":180},{"s":"P8","t":85,"v":178},{"s":"P8","t":110,"v":172},{"s":"P8","t":140,"v":165},{"s":"P8","t":180,"v":155},{"s":"P8","t":230,"v":142},{"s":"P8","t":280,"v":132},{"s":"P8","t":306,"v":128},{"s":"P8","t":310,"v":40},{"s":"P8","t":314,"v":350},{"s":"P8","t":319,"v":1000},{"s":"P8","t":325,"v":1750},{"s":"P8","t":332,"v":2450},{"s":"P8","t":341,"v":3050},{"s":"P8","t":352,"v":3500},{"s":"P8","t":366,"v":3800},{"s":"P8","t":383,"v":4000},{"s":"P8","t":405,"v":4100},{"s":"P8","t":430,"v":4030},{"s":"P8","t":460,"v":3800},{"s":"P8","t":495,"v":3550},{"s":"P8","t":530,"v":3330},{"s":"P8","t":565,"v":3180},{"s":"P8","t":590,"v":3100}
],
"bK":[
{"s":"R3","t":0,"v":0},{"s":"R3","t":15,"v":0},{"s":"R3","t":19,"v":-20},{"s":"R3","t":21,"v":-140},{"s":"R3","t":24,"v":-120},{"s":"R3","t":30,"v":-110},{"s":"R3","t":40,"v":-108},{"s":"R3","t":62,"v":-106},{"s":"R3","t":80,"v":-105},{"s":"R3","t":105,"v":-105},{"s":"R3","t":120,"v":-105},{"s":"R3","t":130,"v":-105},{"s":"R3","t":143,"v":-105},{"s":"R3","t":170,"v":-105},{"s":"R3","t":198,"v":-105},{"s":"R3","t":225,"v":-105},{"s":"R3","t":265,"v":-106},{"s":"R3","t":306,"v":-106},{"s":"R3","t":309,"v":-150},{"s":"R3","t":311,"v":-190},{"s":"R3","t":313,"v":-203},{"s":"R3","t":316,"v":-170},{"s":"R3","t":320,"v":-140},{"s":"R3","t":327,"v":-125},{"s":"R3","t":335,"v":-118},{"s":"R3","t":350,"v":-110},{"s":"R3","t":375,"v":-95},{"s":"R3","t":400,"v":-80},{"s":"R3","t":430,"v":-72},{"s":"R3","t":480,"v":-70},{"s":"R3","t":540,"v":-90},{"s":"R3","t":590,"v":-122},
{"s":"R4","t":0,"v":0},{"s":"R4","t":15,"v":2},{"s":"R4","t":19,"v":-10},{"s":"R4","t":21,"v":-60},{"s":"R4","t":24,"v":0},{"s":"R4","t":30,"v":20},{"s":"R4","t":40,"v":30},{"s":"R4","t":62,"v":32},{"s":"R4","t":80,"v":32},{"s":"R4","t":105,"v":30},{"s":"R4","t":120,"v":30},{"s":"R4","t":130,"v":28},{"s":"R4","t":143,"v":28},{"s":"R4","t":170,"v":26},{"s":"R4","t":198,"v":25},{"s":"R4","t":225,"v":24},{"s":"R4","t":265,"v":22},{"s":"R4","t":306,"v":20},{"s":"R4","t":309,"v":-40},{"s":"R4","t":311,"v":-160},{"s":"R4","t":313,"v":-190},{"s":"R4","t":316,"v":-120},{"s":"R4","t":320,"v":-40},{"s":"R4","t":327,"v":20},{"s":"R4","t":335,"v":50},{"s":"R4","t":350,"v":60},{"s":"R4","t":375,"v":55},{"s":"R4","t":400,"v":50},{"s":"R4","t":430,"v":45},{"s":"R4","t":480,"v":40},{"s":"R4","t":540,"v":35},{"s":"R4","t":590,"v":30}
],
"bKt":[
{"s":"R1","t":0,"v":0},{"s":"R1","t":15,"v":5},{"s":"R1","t":19,"v":10},{"s":"R1","t":21,"v":80},{"s":"R1","t":24,"v":300},{"s":"R1","t":30,"v":420},{"s":"R1","t":40,"v":469},{"s":"R1","t":62,"v":454},{"s":"R1","t":80,"v":430},{"s":"R1","t":105,"v":398},{"s":"R1","t":120,"v":358},{"s":"R1","t":130,"v":290},{"s":"R1","t":143,"v":251},{"s":"R1","t":170,"v":193},{"s":"R1","t":198,"v":144},{"s":"R1","t":225,"v":106},{"s":"R1","t":265,"v":90},{"s":"R1","t":306,"v":86},{"s":"R1","t":309,"v":20},{"s":"R1","t":311,"v":-120},{"s":"R1","t":313,"v":-180},{"s":"R1","t":316,"v":-20},{"s":"R1","t":320,"v":150},{"s":"R1","t":327,"v":200},{"s":"R1","t":335,"v":212},{"s":"R1","t":350,"v":208},{"s":"R1","t":375,"v":195},{"s":"R1","t":400,"v":190},{"s":"R1","t":430,"v":180},{"s":"R1","t":480,"v":155},{"s":"R1","t":540,"v":125},{"s":"R1","t":590,"v":110},
{"s":"R2","t":0,"v":0},{"s":"R2","t":15,"v":5},{"s":"R2","t":19,"v":0},{"s":"R2","t":21,"v":-40},{"s":"R2","t":24,"v":60},{"s":"R2","t":30,"v":120},{"s":"R2","t":40,"v":140},{"s":"R2","t":62,"v":144},{"s":"R2","t":80,"v":140},{"s":"R2","t":105,"v":128},{"s":"R2","t":120,"v":120},{"s":"R2","t":130,"v":116},{"s":"R2","t":143,"v":110},{"s":"R2","t":170,"v":104},{"s":"R2","t":198,"v":100},{"s":"R2","t":225,"v":98},{"s":"R2","t":265,"v":97},{"s":"R2","t":306,"v":96},{"s":"R2","t":309,"v":10},{"s":"R2","t":311,"v":-100},{"s":"R2","t":313,"v":-150},{"s":"R2","t":316,"v":-60},{"s":"R2","t":320,"v":40},{"s":"R2","t":327,"v":90},{"s":"R2","t":335,"v":110},{"s":"R2","t":350,"v":115},{"s":"R2","t":375,"v":110},{"s":"R2","t":400,"v":105},{"s":"R2","t":430,"v":100},{"s":"R2","t":480,"v":90},{"s":"R2","t":540,"v":75},{"s":"R2","t":590,"v":65}
]
},
"layer":[
{
"layer":[
{"data":{"name":"aR"},"transform":[{"filter":"datum.id=='outer'"}],"mark":{"type":"rect","fill":"#FFFFFF","stroke":"#000000","strokeWidth":3},"encoding":{"x":{"field":"t1","type":"quantitative","scale":{"domain":[-194.72,1553.63],"nice":false,"zero":false},"axis":null},"x2":{"field":"t2"},"y":{"field":"v1","type":"quantitative","scale":{"domain":[-1884.7,3467.6],"nice":false,"zero":false},"axis":null},"y2":{"field":"v2"}}},
{"data":{"name":"aR"},"transform":[{"filter":"datum.id=='frame'"}],"mark":{"type":"rect","fill":"#FFFFFF","stroke":"#333333","strokeWidth":2},"encoding":{"x":{"field":"t1","type":"quantitative","axis":null},"x2":{"field":"t2"},"y":{"field":"v1","type":"quantitative","axis":null},"y2":{"field":"v2"}}},
{"data":{"name":"aKA"},"mark":{"type":"area","color":"#000000"},"encoding":{"x":{"field":"t","type":"quantitative","axis":null},"y":{"field":"lo","type":"quantitative","axis":null},"y2":{"field":"hi"}}},
{"data":{"name":"aK"},"mark":{"type":"line","color":"#000000","strokeWidth":1.6},"encoding":{"x":{"field":"t","type":"quantitative","axis":null},"y":{"field":"v","type":"quantitative","axis":null},"detail":{"field":"s"}}},
{"data":{"name":"aOA"},"mark":{"type":"area","color":"#FF9900"},"encoding":{"x":{"field":"t","type":"quantitative","axis":null},"y":{"field":"lo","type":"quantitative","axis":null},"y2":{"field":"hi"}}},
{"data":{"name":"aKt"},"mark":{"type":"line","color":"#000000","strokeWidth":1.6},"encoding":{"x":{"field":"t","type":"quantitative","axis":null},"y":{"field":"v","type":"quantitative","axis":null},"detail":{"field":"s"}}},
{"data":{"name":"aO"},"mark":{"type":"line","color":"#FF9900","strokeWidth":1.6},"encoding":{"x":{"field":"t","type":"quantitative","axis":null},"y":{"field":"v","type":"quantitative","axis":null},"detail":{"field":"s"}}},
{"data":{"name":"aR"},"transform":[{"filter":"datum.id=='hl'"}],"mark":{"type":"rect","fill":"#C3C6C6","fillOpacity":0.384,"stroke":"#000000","strokeWidth":3},"encoding":{"x":{"field":"t1","type":"quantitative","axis":null},"x2":{"field":"t2"},"y":{"field":"v1","type":"quantitative","axis":null},"y2":{"field":"v2"}}},
{"data":{"name":"aAx"},"mark":{"type":"rule","color":"#000000","strokeWidth":3,"strokeCap":"square"},"encoding":{
"x":{"field":"t1","type":"quantitative","axis":{"orient":"bottom","offset":-221,"values":[0,100,200,300,400,500,600],"format":"d","tickSize":10,"tickWidth":2.5,"tickColor":"#000000","labelFontSize":18,"labelFont":"Liberation Sans","labelColor":"#000000","labelPadding":5,"labelFlush":false,"labelOverlap":false,"domain":false,"grid":false,"title":null,"zindex":1}},
"x2":{"field":"t2"},
"y":{"field":"v","type":"quantitative","axis":{"orient":"left","offset":-195,"values":[0,1000,2000],"format":"d","tickSize":12,"tickWidth":2.5,"tickColor":"#000000","labelFontSize":18,"labelFont":"Liberation Sans","labelColor":"#000000","labelPadding":1,"labelFlush":false,"labelOverlap":false,"domain":false,"grid":false,"title":null,"zindex":1}}}},
{"data":{"name":"aAy"},"mark":{"type":"rule","color":"#000000","strokeWidth":3,"strokeCap":"square"},"encoding":{
"x":{"field":"t","type":"quantitative","axis":{"orient":"bottom","offset":-221,"values":[-20,20,40,60,80,120,140,160,180,220,240,260,280,320,340,360,380,420,440,460,480,520,540,560,580,620],"tickSize":5,"tickWidth":2,"tickColor":"#000000","labels":false,"domain":false,"grid":false,"title":null,"zindex":1}},
"y":{"field":"v1","type":"quantitative","axis":{"orient":"left","offset":-195,"values":[-200,200,400,600,800,1200,1400,1600,1800,2200,2400,2600,2800],"tickSize":6,"tickWidth":2,"tickColor":"#000000","labels":false,"domain":false,"grid":false,"title":null,"zindex":1}},
"y2":{"field":"v2"}}},
{"data":{"name":"aArr"},"mark":{"type":"rule","color":"#000000","strokeWidth":2.5},"encoding":{"x":{"field":"t","type":"quantitative","axis":null},"y":{"field":"vt","type":"quantitative","axis":null},"y2":{"field":"vb"}}},
{"data":{"name":"aArr"},"mark":{"type":"point","shape":"triangle-up","size":225,"filled":true,"color":"#000000","opacity":1},"encoding":{"x":{"field":"t","type":"quantitative","axis":null},"y":{"field":"vc","type":"quantitative","axis":null}}},
{"data":{"name":"aR"},"transform":[{"filter":"datum.id=='box'"}],"mark":{"type":"rect","fill":"#ECE9E1","stroke":"#000000","strokeWidth":3},"encoding":{"x":{"field":"t1","type":"quantitative","axis":null},"x2":{"field":"t2"},"y":{"field":"v1","type":"quantitative","axis":null},"y2":{"field":"v2"}}},
{"data":{"name":"aT"},"transform":[{"filter":"datum.k=='big'"}],"mark":{"type":"text","font":"Liberation Serif","fontWeight":"bold","fontSize":63,"align":"left","baseline":"alphabetic","color":"#000000"},"encoding":{"x":{"field":"t","type":"quantitative","axis":null},"y":{"field":"v","type":"quantitative","axis":null},"text":{"field":"s"}}},
{"data":{"name":"aT"},"transform":[{"filter":"datum.k=='dg'"}],"mark":{"type":"text","font":"Liberation Sans","fontSize":27,"align":"center","baseline":"alphabetic","color":"#000000"},"encoding":{"x":{"field":"t","type":"quantitative","axis":null},"y":{"field":"v","type":"quantitative","axis":null},"text":{"field":"s"}}},
{"data":{"name":"aT"},"transform":[{"filter":"datum.k=='yt'"}],"mark":{"type":"text","font":"Liberation Sans","fontSize":17,"angle":270,"align":"center","baseline":"alphabetic","color":"#000000"},"encoding":{"x":{"field":"t","type":"quantitative","axis":null},"y":{"field":"v","type":"quantitative","axis":null},"text":{"field":"s"}}},
{"data":{"name":"aT"},"transform":[{"filter":"datum.k=='xt'"}],"mark":{"type":"text","font":"Liberation Sans","fontSize":18,"align":"center","baseline":"alphabetic","color":"#000000"},"encoding":{"x":{"field":"t","type":"quantitative","axis":null},"y":{"field":"v","type":"quantitative","axis":null},"text":{"field":"s"}}},
{"data":{"name":"aT"},"transform":[{"filter":"datum.k=='bx'"}],"mark":{"type":"text","font":"Liberation Serif","fontWeight":"bold","fontSize":32,"align":"left","baseline":"alphabetic","color":"#000000"},"encoding":{"x":{"field":"t","type":"quantitative","axis":null},"y":{"field":"v","type":"quantitative","axis":null},"text":{"field":"s"}}},
{"data":{"name":"aT"},"transform":[{"filter":"datum.k=='sup'"}],"mark":{"type":"text","font":"Liberation Serif","fontWeight":"bold","fontSize":21,"align":"left","baseline":"alphabetic","color":"#000000"},"encoding":{"x":{"field":"t","type":"quantitative","axis":null},"y":{"field":"v","type":"quantitative","axis":null},"text":{"field":"s"}}},
{"data":{"name":"aT"},"transform":[{"filter":"datum.k=='cc'"}],"mark":{"type":"text","font":"Liberation Serif","fontWeight":"bold","fontSize":32,"align":"left","baseline":"alphabetic","color":"#F79646"},"encoding":{"x":{"field":"t","type":"quantitative","axis":null},"y":{"field":"v","type":"quantitative","axis":null},"text":{"field":"s"}}},
{"data":{"name":"aT"},"transform":[{"filter":"datum.k=='cg'"}],"mark":{"type":"text","font":"Liberation Serif","fontWeight":"bold","fontSize":32,"align":"left","baseline":"alphabetic","color":"#4D4D4D"},"encoding":{"x":{"field":"t","type":"quantitative","axis":null},"y":{"field":"v","type":"quantitative","axis":null},"text":{"field":"s"}}}
],
"resolve":{"axis":{"x":"independent","y":"independent"}}
},
{
"layer":[
{"data":{"name":"bR"},"transform":[{"filter":"datum.id=='outer'"}],"mark":{"type":"rect","fill":"#FFFFFF","stroke":"#000000","strokeWidth":3},"encoding":{"x":{"field":"t1","type":"quantitative","scale":{"domain":[-1112.92,608.45],"nice":false,"zero":false},"axis":null},"x2":{"field":"t2"},"y":{"field":"v1","type":"quantitative","scale":{"domain":[-2798.9,5844.8],"nice":false,"zero":false},"axis":null},"y2":{"field":"v2"}}},
{"data":{"name":"bR"},"transform":[{"filter":"datum.id=='frame'"}],"mark":{"type":"rect","fill":"#FFFFFF","stroke":"#333333","strokeWidth":2},"encoding":{"x":{"field":"t1","type":"quantitative","axis":null},"x2":{"field":"t2"},"y":{"field":"v1","type":"quantitative","axis":null},"y2":{"field":"v2"}}},
{"data":{"name":"bKA"},"mark":{"type":"area","color":"#000000"},"encoding":{"x":{"field":"t","type":"quantitative","axis":null},"y":{"field":"lo","type":"quantitative","axis":null},"y2":{"field":"hi"}}},
{"data":{"name":"bK"},"mark":{"type":"line","color":"#000000","strokeWidth":1.6},"encoding":{"x":{"field":"t","type":"quantitative","axis":null},"y":{"field":"v","type":"quantitative","axis":null},"detail":{"field":"s"}}},
{"data":{"name":"bPA"},"mark":{"type":"area","color":"#FF99CC"},"encoding":{"x":{"field":"t","type":"quantitative","axis":null},"y":{"field":"lo","type":"quantitative","axis":null},"y2":{"field":"hi"}}},
{"data":{"name":"bKt"},"mark":{"type":"line","color":"#000000","strokeWidth":1.6},"encoding":{"x":{"field":"t","type":"quantitative","axis":null},"y":{"field":"v","type":"quantitative","axis":null},"detail":{"field":"s"}}},
{"data":{"name":"bP"},"mark":{"type":"line","color":"#FF99CC","strokeWidth":1.6},"encoding":{"x":{"field":"t","type":"quantitative","axis":null},"y":{"field":"v","type":"quantitative","axis":null},"detail":{"field":"s"}}},
{"data":{"name":"bR"},"transform":[{"filter":"datum.id=='hl'"}],"mark":{"type":"rect","fill":"#E8E8E8","fillOpacity":0.388,"stroke":"#000000","strokeWidth":3},"encoding":{"x":{"field":"t1","type":"quantitative","axis":null},"x2":{"field":"t2"},"y":{"field":"v1","type":"quantitative","axis":null},"y2":{"field":"v2"}}},
{"data":{"name":"bAx"},"mark":{"type":"rule","color":"#000000","strokeWidth":3,"strokeCap":"square"},"encoding":{
"x":{"field":"t1","type":"quantitative","axis":{"orient":"bottom","offset":-204,"values":[0,100,200,300,400,500,600],"format":"d","tickSize":10,"tickWidth":2.5,"tickColor":"#000000","labelFontSize":18,"labelFont":"Liberation Sans","labelColor":"#000000","labelPadding":5,"labelFlush":false,"labelOverlap":false,"domain":false,"grid":false,"title":null,"zindex":1}},
"x2":{"field":"t2"},
"y":{"field":"v","type":"quantitative","axis":{"orient":"left","offset":-1327,"values":[0,2000,4000],"format":"d","tickSize":12,"tickWidth":2.5,"tickColor":"#000000","labelFontSize":18,"labelFont":"Liberation Sans","labelColor":"#000000","labelPadding":1,"labelFlush":false,"labelOverlap":false,"domain":false,"grid":false,"title":null,"zindex":1}}}},
{"data":{"name":"bAy"},"mark":{"type":"rule","color":"#000000","strokeWidth":3,"strokeCap":"square"},"encoding":{
"x":{"field":"t","type":"quantitative","axis":{"orient":"bottom","offset":-204,"values":[-20,20,40,60,80,120,140,160,180,220,240,260,280,320,340,360,380,420,440,460,480,520,540,560,580],"tickSize":5,"tickWidth":2,"tickColor":"#000000","labels":false,"domain":false,"grid":false,"title":null,"zindex":1}},
"y":{"field":"v1","type":"quantitative","axis":{"orient":"left","offset":-1327,"values":[500,1000,1500,2500,3000,3500,4500],"tickSize":6,"tickWidth":2,"tickColor":"#000000","labels":false,"domain":false,"grid":false,"title":null,"zindex":1}},
"y2":{"field":"v2"}}},
{"data":{"name":"bArr"},"mark":{"type":"rule","color":"#000000","strokeWidth":2.5},"encoding":{"x":{"field":"t","type":"quantitative","axis":null},"y":{"field":"vt","type":"quantitative","axis":null},"y2":{"field":"vb"}}},
{"data":{"name":"bArr"},"mark":{"type":"point","shape":"triangle-up","size":225,"filled":true,"color":"#000000","opacity":1},"encoding":{"x":{"field":"t","type":"quantitative","axis":null},"y":{"field":"vc","type":"quantitative","axis":null}}},
{"data":{"name":"bR"},"transform":[{"filter":"datum.id=='box'"}],"mark":{"type":"rect","fill":"#ECE9E1","stroke":"#000000","strokeWidth":3},"encoding":{"x":{"field":"t1","type":"quantitative","axis":null},"x2":{"field":"t2"},"y":{"field":"v1","type":"quantitative","axis":null},"y2":{"field":"v2"}}},
{"data":{"name":"bT"},"transform":[{"filter":"datum.k=='big'"}],"mark":{"type":"text","font":"Liberation Serif","fontWeight":"bold","fontSize":63,"align":"left","baseline":"alphabetic","color":"#000000"},"encoding":{"x":{"field":"t","type":"quantitative","axis":null},"y":{"field":"v","type":"quantitative","axis":null},"text":{"field":"s"}}},
{"data":{"name":"bT"},"transform":[{"filter":"datum.k=='dg'"}],"mark":{"type":"text","font":"Liberation Sans","fontSize":27,"align":"center","baseline":"alphabetic","color":"#000000"},"encoding":{"x":{"field":"t","type":"quantitative","axis":null},"y":{"field":"v","type":"quantitative","axis":null},"text":{"field":"s"}}},
{"data":{"name":"bT"},"transform":[{"filter":"datum.k=='yt'"}],"mark":{"type":"text","font":"Liberation Sans","fontSize":17,"angle":270,"align":"center","baseline":"alphabetic","color":"#000000"},"encoding":{"x":{"field":"t","type":"quantitative","axis":null},"y":{"field":"v","type":"quantitative","axis":null},"text":{"field":"s"}}},
{"data":{"name":"bT"},"transform":[{"filter":"datum.k=='xt'"}],"mark":{"type":"text","font":"Liberation Sans","fontSize":18,"align":"center","baseline":"alphabetic","color":"#000000"},"encoding":{"x":{"field":"t","type":"quantitative","axis":null},"y":{"field":"v","type":"quantitative","axis":null},"text":{"field":"s"}}},
{"data":{"name":"bT"},"transform":[{"filter":"datum.k=='bx'"}],"mark":{"type":"text","font":"Liberation Serif","fontWeight":"bold","fontSize":32,"align":"left","baseline":"alphabetic","color":"#000000"},"encoding":{"x":{"field":"t","type":"quantitative","axis":null},"y":{"field":"v","type":"quantitative","axis":null},"text":{"field":"s"}}},
{"data":{"name":"bT"},"transform":[{"filter":"datum.k=='sup'"}],"mark":{"type":"text","font":"Liberation Serif","fontWeight":"bold","fontSize":21,"align":"left","baseline":"alphabetic","color":"#000000"},"encoding":{"x":{"field":"t","type":"quantitative","axis":null},"y":{"field":"v","type":"quantitative","axis":null},"text":{"field":"s"}}},
{"data":{"name":"bT"},"transform":[{"filter":"datum.k=='cc'"}],"mark":{"type":"text","font":"Liberation Serif","fontWeight":"bold","fontSize":32,"align":"left","baseline":"alphabetic","color":"#FF3399"},"encoding":{"x":{"field":"t","type":"quantitative","axis":null},"y":{"field":"v","type":"quantitative","axis":null},"text":{"field":"s"}}},
{"data":{"name":"bT"},"transform":[{"filter":"datum.k=='cg'"}],"mark":{"type":"text","font":"Liberation Serif","fontWeight":"bold","fontSize":32,"align":"left","baseline":"alphabetic","color":"#4D4D4D"},"encoding":{"x":{"field":"t","type":"quantitative","axis":null},"y":{"field":"v","type":"quantitative","axis":null},"text":{"field":"s"}}}
],
"resolve":{"axis":{"x":"independent","y":"independent"}}
}
],
"resolve":{"scale":{"x":"independent","y":"independent"}}
}
